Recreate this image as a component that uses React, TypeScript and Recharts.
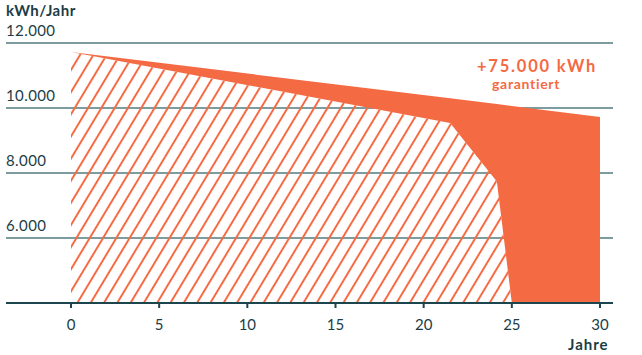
import { AreaChart, Area, XAxis, YAxis, CartesianGrid } from "recharts";

const years = [0, 21.5, 24.15, 25, 30];
const guaranteed = [11720, 10300, 10120, 10060, 9720];
const expected = [11720, 9540, 7740, 4000, 4000];
const xTicks = [0, 5, 10, 15, 20, 25, 30];
const yTicks = [6000, 8000, 10000, 12000];

const orange = "#f46a43";
const textColor = "#1c3d46";
const gridColor = "#7c9c9f";
const axisColor = "#1d454d";
const font = "Lato, 'Open Sans', sans-serif";

const data = years.map((year, i) => ({
  year,
  expected: expected[i],
  band: [expected[i], guaranteed[i]],
}));

const fmt = (v: number) => String(v).replace(/\B(?=(\d{3})+(?!\d))/g, ".");

function YTick(props: any) {
  const { y, payload } = props;
  return (
    <text x={6} y={y - 7} fill={textColor} fontSize={15} fontFamily={font} textAnchor="start" letterSpacing={0.4}>
      {fmt(payload.value)}
    </text>
  );
}

const overlay = (left: number, top: number, size: number, color: string, spacing: number) => ({
  position: "absolute" as const,
  left,
  top,
  fontSize: size,
  lineHeight: 1,
  fontWeight: 700,
  color,
  letterSpacing: spacing,
  whiteSpace: "nowrap" as const,
});

export default function App() {
  return (
    <div style={{ position: "absolute", left: 0, top: 0, width: 642, height: 355, fontFamily: font }}>
      <AreaChart width={642} height={355} data={data} margin={{ top: 43, right: 29, left: 5, bottom: 0 }}>
        <defs>
          <pattern id="hatch" patternUnits="userSpaceOnUse" width="11.4" height="11.4" patternTransform="rotate(31)">
            <line x1="5.7" y1="0" x2="5.7" y2="11.4" stroke={orange} strokeWidth={2} />
          </pattern>
        </defs>
        <CartesianGrid vertical={false} stroke={gridColor} strokeWidth={2} />
        <XAxis
          type="number"
          dataKey="year"
          domain={[0, 30]}
          ticks={xTicks}
          padding={{ left: 65, right: 13 }}
          height={52}
          stroke={axisColor}
          strokeWidth={2}
          tickSize={5}
          tickMargin={11}
          tick={{ fill: textColor, fontSize: 15, fontFamily: font }}
        />
        <YAxis
          width={1}
          domain={[4000, 12000]}
          ticks={yTicks}
          interval={0}
          axisLine={false}
          tickLine={false}
          tick={(p: any) => <YTick {...p} />}
          allowDataOverflow
        />
        <Area
          type="linear"
          dataKey="expected"
          fill="url(#hatch)"
          fillOpacity={1}
          stroke="none"
          isAnimationActive={false}
        />
        <Area
          type="linear"
          dataKey="band"
          fill={orange}
          fillOpacity={1}
          stroke="none"
          isAnimationActive={false}
        />
      </AreaChart>
      <div style={overlay(6, 3, 15, textColor, 0.5)}>kWh/Jahr</div>
      <div style={overlay(477, 58, 16.5, orange, 1.8)}>+75.000 kWh</div>
      <div style={overlay(492, 77, 14, orange, 0.7)}>garantiert</div>
      <div style={overlay(568, 337, 15, textColor, 1)}>Jahre</div>
    </div>
  );
}
